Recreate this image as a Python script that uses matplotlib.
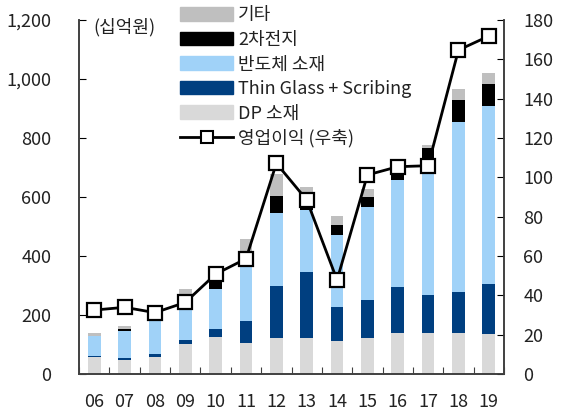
import matplotlib
matplotlib.use("Agg")
import matplotlib.pyplot as plt
from matplotlib.lines import Line2D
from matplotlib.patches import Patch
import numpy as np

plt.rcParams['font.family'] = ['Noto Sans CJK KR', 'DejaVu Sans']

years = ['06', '07', '08', '09', '10', '11', '12', '13', '14', '15', '16', '17', '18', '19']
dp = [57, 47, 59, 102, 126, 104, 121, 121, 113, 121, 138, 138, 140, 136]
thin_glass = [4, 8, 8, 13, 25, 76, 177, 226, 113, 130, 158, 129, 137, 169]
semi = [67, 92, 118, 135, 136, 225, 247, 209, 245, 314, 362, 453, 576, 604]
battery = [0, 5, 0, 0, 32, 0, 58, 12, 34, 36, 30, 45, 76, 74]
etc = [11, 12, 3, 38, 0, 53, 75, 67, 32, 26, 5, 11, 36, 38]
op_profit = [32.5, 33.9, 31.2, 36.4, 50.8, 58.6, 107.1, 88.5, 47.8, 101.2, 105.4, 105.9, 164.7, 171.8]

colors = ['#D9D9D9', '#003F80', '#A0D2F8', '#000000', '#BFBFBF']
labels = ['DP 소재', 'Thin Glass + Scribing', '반도체 소재', '2차전지', '기타']

fig = plt.figure(figsize=(5.65, 4.16), dpi=100)
ax = fig.add_axes([0.14, 0.101, 0.752, 0.851])
ax2 = ax.twinx()

x = np.arange(len(years))
bottom = np.zeros(len(years))
for vals, c in zip([dp, thin_glass, semi, battery, etc], colors):
    ax.bar(x, vals, bottom=bottom, width=0.42, color=c, zorder=2)
    bottom += np.array(vals)

ax2.plot(x, op_profit, color='black', lw=2, marker='s', markersize=10,
         markerfacecolor='white', markeredgecolor='black', markeredgewidth=1.6, zorder=5)

ax.set_xlim(-0.5, len(years) - 0.5)
ax.set_ylim(0, 1200)
ax2.set_ylim(0, 180)
ax.set_yticks(range(0, 1201, 200))
ax.set_yticklabels([f'{v:,}' for v in range(0, 1201, 200)])
ax2.set_yticks(range(0, 181, 20))

ax.set_xticks(np.arange(-0.5, len(years), 1))
ax.set_xticklabels([])
ax.set_xticks(x, minor=True)
ax.set_xticklabels(years, minor=True)
ax.tick_params(axis='x', which='major', direction='in', length=5, color='#404040')
ax.tick_params(axis='x', which='minor', length=0, pad=14, labelsize=13, labelcolor='#222222')
ax.tick_params(axis='y', direction='in', length=5, labelsize=13, pad=20, labelcolor='#222222')
ax2.tick_params(axis='y', direction='in', length=5, labelsize=13, pad=14, labelcolor='#222222')

for a in (ax, ax2):
    a.spines['top'].set_visible(False)
    for s in ('left', 'right', 'bottom'):
        a.spines[s].set_color('#404040')
        a.spines[s].set_linewidth(1.2)

fig.text(0.165, 0.935, '(십억원)', fontsize=13, color='#222222', va='center')

handles = [Patch(color=colors[i]) for i in [4, 3, 2, 1, 0]]
handles.append(Line2D([], [], color='black', lw=2, marker='s', markersize=9,
                      markerfacecolor='white', markeredgecolor='black', markeredgewidth=1.5))
leg_labels = [labels[i] for i in [4, 3, 2, 1, 0]] + ['영업이익 (우축)']
ax2.legend(handles, leg_labels, loc='upper left', bbox_to_anchor=(0.297, 1.015),
           bbox_transform=fig.transFigure, frameon=False, fontsize=13,
           handlelength=2.9, handleheight=0.75, labelspacing=0.36, handletextpad=0.3,
           borderpad=0.2, labelcolor='#222222')

fig.savefig('out.png', dpi=100)
